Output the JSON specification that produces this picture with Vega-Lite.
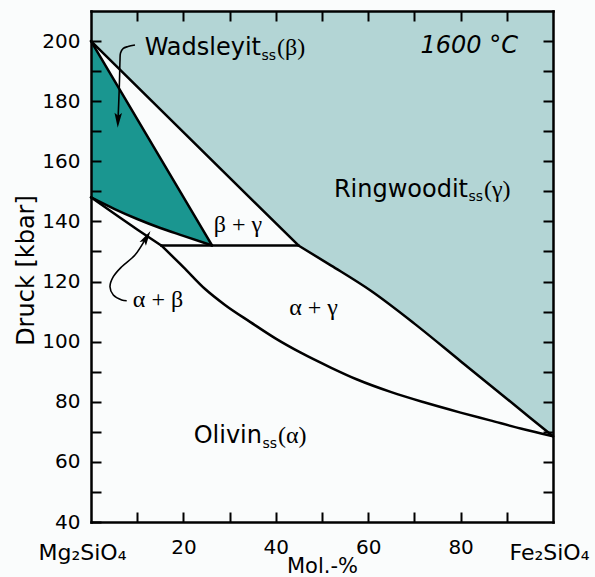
{
  "$schema": "https://vega.github.io/schema/vega-lite/v6.json",
  "width": 462,
  "height": 511,
  "autosize": {"type": "none"},
  "padding": {"left": 91, "top": 11, "right": 42, "bottom": 55},
  "background": "#fafcfc",
  "config": {
    "view": {"stroke": null},
    "axis": {
      "labelFont": "DejaVu Sans",
      "titleFont": "DejaVu Sans",
      "labelColor": "black",
      "titleColor": "black",
      "tickColor": "black",
      "domainColor": "black",
      "tickWidth": 2,
      "grid": false,
      "labelOverlap": false,
      "labelFlush": false,
      "labelBound": false,
      "domainCap": "square",
      "titleFontWeight": "normal"
    }
  },
  "datasets": {
    "gam": [
      {"x": 0, "y": 200}, {"x": 44.9, "y": 132}, {"x": 52, "y": 125.3}, {"x": 60.5, "y": 117},
      {"x": 70, "y": 106}, {"x": 80, "y": 93.5}, {"x": 90, "y": 81}, {"x": 100, "y": 68.5}
    ],
    "bet": [
      {"x": 0, "y": 148, "y2": 200}, {"x": 5, "y": 144.2, "y2": 187.02}, {"x": 10, "y": 140.8, "y2": 174.05},
      {"x": 15, "y": 137.8, "y2": 161.07}, {"x": 20, "y": 135.2, "y2": 148.09}, {"x": 26.2, "y": 132, "y2": 132}
    ],
    "lines": [
      {"seg": "g1", "o": 1, "x": 0, "y": 200}, {"seg": "g1", "o": 2, "x": 44.9, "y": 132},
      {"seg": "b1", "o": 1, "x": 0, "y": 200}, {"seg": "b1", "o": 2, "x": 26.2, "y": 132},
      {"seg": "ab1", "o": 1, "x": 0, "y": 148}, {"seg": "ab1", "o": 2, "x": 5, "y": 144.2}, {"seg": "ab1", "o": 3, "x": 10, "y": 140.8},
      {"seg": "ab1", "o": 4, "x": 15, "y": 137.8}, {"seg": "ab1", "o": 5, "x": 20, "y": 135.2}, {"seg": "ab1", "o": 6, "x": 26.2, "y": 132},
      {"seg": "ab2", "o": 1, "x": 0, "y": 148}, {"seg": "ab2", "o": 2, "x": 5, "y": 142.6}, {"seg": "ab2", "o": 3, "x": 10, "y": 137.3}, {"seg": "ab2", "o": 4, "x": 15.2, "y": 132},
      {"seg": "h", "o": 1, "x": 15.2, "y": 132}, {"seg": "h", "o": 2, "x": 44.9, "y": 132},
      {"seg": "g2", "o": 1, "x": 44.9, "y": 132}, {"seg": "g2", "o": 2, "x": 52, "y": 125.3}, {"seg": "g2", "o": 3, "x": 60.5, "y": 117},
      {"seg": "g2", "o": 4, "x": 70, "y": 106}, {"seg": "g2", "o": 5, "x": 80, "y": 93.5}, {"seg": "g2", "o": 6, "x": 90, "y": 81}, {"seg": "g2", "o": 7, "x": 100, "y": 68.5},
      {"seg": "a", "o": 1, "x": 15.2, "y": 132}, {"seg": "a", "o": 2, "x": 20, "y": 124.8}, {"seg": "a", "o": 3, "x": 24.7, "y": 117.5},
      {"seg": "a", "o": 4, "x": 29, "y": 112.2}, {"seg": "a", "o": 5, "x": 34.5, "y": 106.5}, {"seg": "a", "o": 6, "x": 40, "y": 101},
      {"seg": "a", "o": 7, "x": 45.3, "y": 96.4}, {"seg": "a", "o": 8, "x": 52, "y": 91.3}, {"seg": "a", "o": 9, "x": 57.6, "y": 87.4},
      {"seg": "a", "o": 10, "x": 65, "y": 83.2}, {"seg": "a", "o": 11, "x": 71.9, "y": 79.9}, {"seg": "a", "o": 12, "x": 80, "y": 76.4},
      {"seg": "a", "o": 13, "x": 86.4, "y": 73.8}, {"seg": "a", "o": 14, "x": 93, "y": 71.1}, {"seg": "a", "o": 15, "x": 100, "y": 68.5}
    ],
    "arrows": [
      {"seg": "w", "o": 1, "x": 9.52, "y": 198.68}, {"seg": "w", "o": 2, "x": 8.01, "y": 198.18}, {"seg": "w", "o": 3, "x": 6.99, "y": 197.58},
      {"seg": "w", "o": 4, "x": 6.39, "y": 196.02}, {"seg": "w", "o": 5, "x": 6.28, "y": 193.69}, {"seg": "w", "o": 6, "x": 6.17, "y": 187.04},
      {"seg": "w", "o": 7, "x": 6.0, "y": 179.39}, {"seg": "w", "o": 8, "x": 5.86, "y": 174.4},
      {"seg": "ab", "o": 1, "x": 7.73, "y": 113.62}, {"seg": "ab", "o": 2, "x": 6.65, "y": 113.85}, {"seg": "ab", "o": 3, "x": 4.83, "y": 115.51},
      {"seg": "ab", "o": 4, "x": 4.11, "y": 118.28}, {"seg": "ab", "o": 5, "x": 4.83, "y": 121.6}, {"seg": "ab", "o": 6, "x": 6.65, "y": 124.93},
      {"seg": "ab", "o": 7, "x": 9.52, "y": 128.82}, {"seg": "ab", "o": 8, "x": 11.8, "y": 134.2}
    ],
    "headW": [{"x": 5.84, "y": 173.64}],
    "headAB": [{"x": 12.03, "y": 134.68}],
    "main": [
      {"t": "Wadsleyit", "x": 36.8, "y": 195.36},
      {"t": "Ringwoodit", "x": 81.6, "y": 148.22},
      {"t": "Olivin", "x": 37.01, "y": 66.18}
    ],
    "sub": [
      {"t": "ss", "x": 36.9, "y": 193.86},
      {"t": "ss", "x": 81.71, "y": 146.95},
      {"t": "ss", "x": 37.12, "y": 64.78}
    ],
    "greek": [
      {"t": "(β)", "x": 40.26, "y": 195.36},
      {"t": "(γ)", "x": 85.06, "y": 148.22},
      {"t": "(α)", "x": 40.48, "y": 66.18}
    ],
    "phase": [
      {"t": "β + γ", "x": 31.82, "y": 136.57},
      {"t": "α + γ", "x": 48.16, "y": 108.86},
      {"t": "α + β", "x": 14.5, "y": 111.62}
    ],
    "temp": [{"t": "1600 °C", "x": 92.42, "y": 196.12}]
  },
  "resolve": {"axis": {"x": "independent", "y": "independent"}},
  "layer": [
    {
      "data": {"name": "gam"},
      "mark": {"type": "area", "color": "#b3d5d5", "interpolate": "linear"},
      "encoding": {
        "x": {
          "field": "x", "type": "quantitative",
          "scale": {"domain": [0, 100], "nice": false, "zero": false},
          "axis": {
            "orient": "bottom", "values": [10, 20, 30, 40, 50, 60, 70, 80, 90],
            "labelExpr": "datum.value % 20 == 0 ? datum.label : ''",
            "tickSize": -10, "labelPadding": 25, "labelFontSize": 20,
            "domain": true, "domainWidth": 2.5,
            "title": "Mol.-%", "titleFontSize": 21, "titleBaseline": "alphabetic", "titleY": 50,
            "zindex": 1
          }
        },
        "y": {
          "field": "y", "type": "quantitative",
          "scale": {"domain": [40, 210], "nice": false, "zero": false},
          "axis": {
            "orient": "left", "values": [40, 50, 60, 70, 80, 90, 100, 110, 120, 130, 140, 150, 160, 170, 180, 190, 200],
            "labelExpr": "datum.value % 20 == 0 ? datum.label : ''",
            "tickSize": -10, "labelPadding": 21, "labelFontSize": 20,
            "domain": true, "domainWidth": 2.5,
            "title": "Druck [kbar]", "titleFontSize": 24, "titleAngle": -90,
            "titleBaseline": "alphabetic", "titleX": -58, "titleY": 259, "titleAlign": "center",
            "zindex": 1
          }
        },
        "y2": {"datum": 210}
      }
    },
    {
      "data": {"name": "bet"},
      "mark": {"type": "area", "color": "#1a9690", "interpolate": "linear"},
      "encoding": {
        "x": {
          "field": "x", "type": "quantitative",
          "axis": {
            "orient": "bottom", "values": [0, 100],
            "labelExpr": "datum.value == 0 ? 'Mg₂SiO₄' : 'Fe₂SiO₄'",
            "ticks": false, "domain": false, "labelPadding": 20, "labelFontSize": 22,
            "labelOffset": {"condition": {"test": "datum.value == 0", "value": -9}, "value": -4},
            "title": null, "zindex": 1
          }
        },
        "y": {"field": "y", "type": "quantitative", "axis": null},
        "y2": {"field": "y2"}
      }
    },
    {
      "data": {"name": "lines"},
      "mark": {"type": "line", "color": "black", "strokeWidth": 2.5, "interpolate": "monotone", "strokeCap": "round", "strokeJoin": "round"},
      "encoding": {
        "x": {
          "field": "x", "type": "quantitative",
          "axis": {"orient": "top", "values": [10, 20, 30, 40, 50, 60, 70, 80, 90], "labels": false, "tickSize": -10, "domain": true, "domainWidth": 2.5, "title": null, "zindex": 1}
        },
        "y": {
          "field": "y", "type": "quantitative",
          "axis": {"orient": "right", "values": [50, 60, 70, 80, 90, 100, 110, 120, 130, 140, 150, 160, 170, 180, 190, 200], "labels": false, "tickSize": -10, "domain": true, "domainWidth": 2.5, "title": null, "zindex": 1}
        },
        "detail": {"field": "seg"},
        "order": {"field": "o"}
      }
    },
    {
      "data": {"name": "arrows"},
      "mark": {"type": "line", "color": "black", "strokeWidth": 1.6, "interpolate": "catmull-rom"},
      "encoding": {
        "x": {"field": "x", "type": "quantitative", "axis": null},
        "y": {"field": "y", "type": "quantitative", "axis": null},
        "detail": {"field": "seg"},
        "order": {"field": "o"}
      }
    },
    {
      "data": {"name": "headW"},
      "mark": {"type": "point", "shape": "M0,-1L0.5,1L0,0.6L-0.5,1Z", "filled": true, "color": "black", "opacity": 1, "size": 225, "angle": 182},
      "encoding": {
        "x": {"field": "x", "type": "quantitative", "axis": null},
        "y": {"field": "y", "type": "quantitative", "axis": null}
      }
    },
    {
      "data": {"name": "headAB"},
      "mark": {"type": "point", "shape": "M0,-1L0.5,1L0,0.6L-0.5,1Z", "filled": true, "color": "black", "opacity": 1, "size": 225, "angle": 31},
      "encoding": {
        "x": {"field": "x", "type": "quantitative", "axis": null},
        "y": {"field": "y", "type": "quantitative", "axis": null}
      }
    },
    {
      "data": {"name": "main"},
      "mark": {"type": "text", "font": "DejaVu Sans", "fontSize": 24, "align": "right", "baseline": "alphabetic", "color": "black"},
      "encoding": {
        "x": {"field": "x", "type": "quantitative", "axis": null},
        "y": {"field": "y", "type": "quantitative", "axis": null},
        "text": {"field": "t"}
      }
    },
    {
      "data": {"name": "sub"},
      "mark": {"type": "text", "font": "DejaVu Sans", "fontSize": 14, "align": "left", "baseline": "alphabetic", "color": "black"},
      "encoding": {
        "x": {"field": "x", "type": "quantitative", "axis": null},
        "y": {"field": "y", "type": "quantitative", "axis": null},
        "text": {"field": "t"}
      }
    },
    {
      "data": {"name": "greek"},
      "mark": {"type": "text", "font": "Liberation Serif", "fontSize": 24, "align": "left", "baseline": "alphabetic", "color": "black"},
      "encoding": {
        "x": {"field": "x", "type": "quantitative", "axis": null},
        "y": {"field": "y", "type": "quantitative", "axis": null},
        "text": {"field": "t"}
      }
    },
    {
      "data": {"name": "phase"},
      "mark": {"type": "text", "font": "Liberation Serif", "fontSize": 24, "align": "center", "baseline": "alphabetic", "color": "black"},
      "encoding": {
        "x": {"field": "x", "type": "quantitative", "axis": null},
        "y": {"field": "y", "type": "quantitative", "axis": null},
        "text": {"field": "t"}
      }
    },
    {
      "data": {"name": "temp"},
      "mark": {"type": "text", "font": "DejaVu Sans", "fontSize": 24, "fontStyle": "italic", "align": "right", "baseline": "alphabetic", "color": "black"},
      "encoding": {
        "x": {"field": "x", "type": "quantitative", "axis": null},
        "y": {"field": "y", "type": "quantitative", "axis": null},
        "text": {"field": "t"}
      }
    }
  ]
}
